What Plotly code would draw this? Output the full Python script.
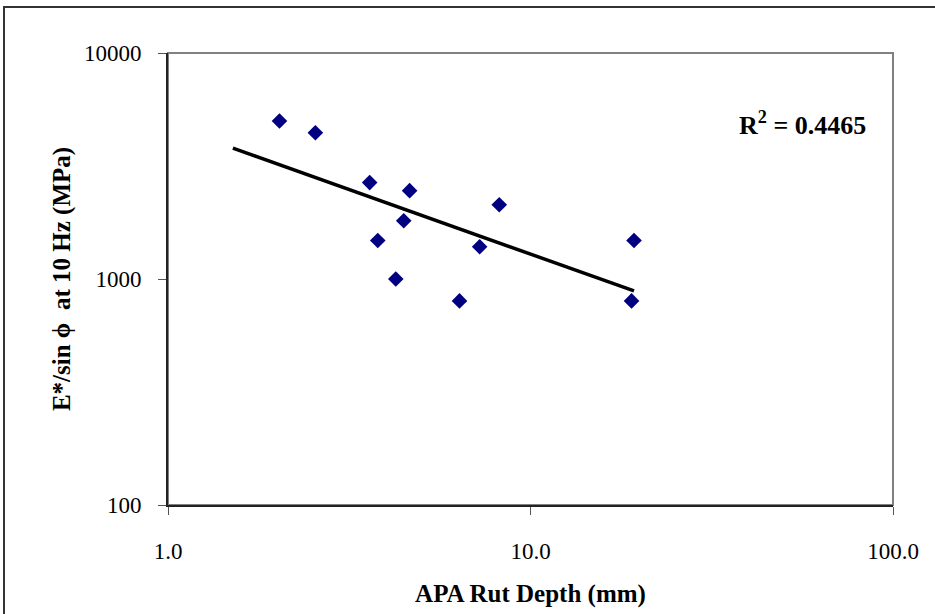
import numpy as np
import plotly.graph_objects as go

# Data
rut_depth = [2.03, 2.55, 3.60, 4.64, 4.47, 3.79, 4.25, 6.37, 7.24, 8.20, 19.3, 19.0]
modulus = [5000, 4440, 2670, 2460, 1810, 1480, 1000, 800, 1390, 2130, 1480, 800]

# Power trendline (y = a * x^b)
trend_a = 4800
trend_b = -0.571
trend_x_range = [1.51, 19.3]
r2_text = "R<sup>2</sup> = 0.4465"

x_ticks = [1, 10, 100]
x_tick_text = ["1.0", "10.0", "100.0"]
y_ticks = [100, 1000, 10000]
y_tick_text = ["100", "1000", "10000"]

tx = np.logspace(np.log10(trend_x_range[0]), np.log10(trend_x_range[1]), 60)
ty = trend_a * tx ** trend_b

W, H = 935, 614
L, R, T, B = 168, 42, 53, 109
pw, ph = W - L - R, H - T - B

def px_to_paper_x(p):
    return (p - L) / pw

def px_to_paper_y(p):
    return (H - B - p) / ph

fig = go.Figure()
fig.add_trace(go.Scatter(x=tx, y=ty, mode="lines",
                         line=dict(color="black", width=3.5), showlegend=False, hoverinfo="skip"))
fig.add_trace(go.Scatter(x=rut_depth, y=modulus, mode="markers",
                         marker=dict(symbol="diamond", color="#000080", size=12, line=dict(width=0)),
                         showlegend=False))

font_family = "Liberation Serif, Times New Roman, serif"

fig.update_layout(
    width=W, height=H,
    margin=dict(l=L, r=R, t=T, b=B, pad=0),
    paper_bgcolor="white", plot_bgcolor="white",
    font=dict(family=font_family, color="black", size=23),
    xaxis=dict(type="log", range=[0, 2], tickvals=x_ticks, ticktext=x_tick_text,
               showgrid=False, zeroline=False, showline=True, linecolor="#222", linewidth=2,
               ticks="outside", ticklen=8, tickwidth=1, tickcolor="#555",
               ticklabelstandoff=16, tickfont=dict(size=23, family=font_family),
               title=dict(text="<b>APA Rut Depth (mm)</b>", font=dict(size=25, family=font_family), standoff=22)),
    yaxis=dict(type="log", range=[2, 4], tickvals=y_ticks, ticktext=y_tick_text,
               showgrid=False, zeroline=False, showline=True, linecolor="#222", linewidth=2,
               ticks="outside", ticklen=8, tickwidth=1, tickcolor="#555",
               ticklabelstandoff=12, tickfont=dict(size=23, family=font_family),
               title=dict(text="<b>E*/sin \u03d5  at 10 Hz (MPa)</b>", font=dict(size=25, family=font_family), standoff=6)),
    shapes=[
        dict(type="rect", xref="paper", yref="paper", x0=0, x1=1, y0=0, y1=1,
             line=dict(color="#808080", width=2), layer="below"),
        dict(type="rect", xref="paper", yref="paper",
             x0=px_to_paper_x(4), x1=px_to_paper_x(960),
             y0=px_to_paper_y(640), y1=px_to_paper_y(7),
             line=dict(color="#333", width=2), layer="below"),
    ],
    annotations=[
        dict(text="<b>" + r2_text + "</b>", xref="paper", yref="paper",
             x=px_to_paper_x(802), y=px_to_paper_y(123), xanchor="center", yanchor="middle",
             showarrow=False, font=dict(size=26, family=font_family, color="black")),
    ],
)

fig.write_html("out.html")
